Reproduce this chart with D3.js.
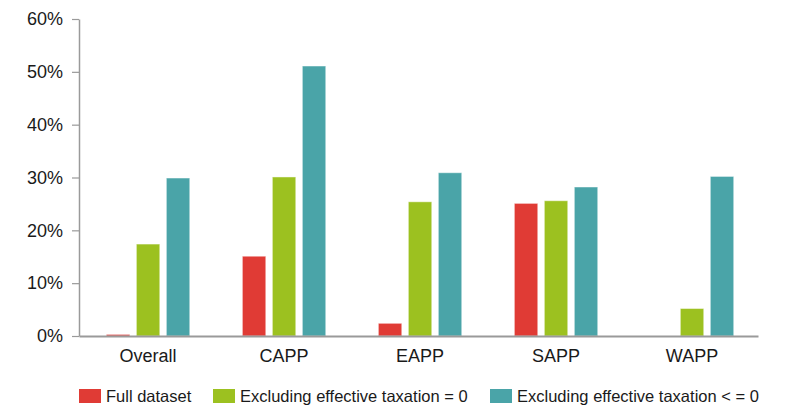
<!DOCTYPE html>
<html>
<head>
<meta charset="utf-8">
<script src="https://cdn.jsdelivr.net/npm/d3@7"></script>
<style>
  html, body { margin: 0; padding: 0; background: #fff; }
  svg { display: block; font-family: "Liberation Sans", Arial, sans-serif; }
</style>
</head>
<body>
<svg id="chart" width="785" height="408"></svg>
<script>
// Power pools shown along the x axis
const categories = ["Overall", "CAPP", "EAPP", "SAPP", "WAPP"];

// Series names (legend order)
const seriesNames = [
  "Full dataset",
  "Excluding effective taxation = 0",
  "Excluding effective taxation < = 0"
];

// Shares per power pool, one array per series
const fullDataset   = [0.003, 0.151, 0.024, 0.251, 0.000];
const excludingZero = [0.174, 0.301, 0.254, 0.256, 0.052];
const excludingNeg  = [0.299, 0.511, 0.309, 0.282, 0.302];

const yTicks = [0, 0.1, 0.2, 0.3, 0.4, 0.5, 0.6];
const seriesColors = ["#e03b35", "#9cc120", "#4aa4a8"];

const svg = d3.select("#chart");
const plotLeft = 79, plotRight = 758, plotTop = 19, plotBottom = 336;

const seriesValues = [fullDataset, excludingZero, excludingNeg];

const x0 = d3.scaleBand()
  .domain(categories)
  .range([plotLeft, plotRight])
  .paddingInner(0.387)
  .paddingOuter(0.19)
  .align(0.53);

const x1 = d3.scaleBand()
  .domain(seriesNames)
  .range([0, x0.bandwidth()])
  .paddingInner(0.22)
  .paddingOuter(0);

const y = d3.scaleLinear().domain([0, 0.6]).range([plotBottom, plotTop]);

// Bars
const groups = svg.append("g").selectAll("g")
  .data(categories)
  .join("g")
  .attr("transform", d => `translate(${x0(d)},0)`);

groups.selectAll("rect")
  .data((c, i) => seriesNames.map((s, k) => ({ s, k, v: seriesValues[k][i] })).filter(d => d.v > 0))
  .join("rect")
  .attr("x", d => x1(d.s))
  .attr("y", d => y(d.v))
  .attr("width", x1.bandwidth())
  .attr("height", d => y(0) - y(d.v))
  .attr("fill", d => seriesColors[d.k])
  .attr("stroke", "rgba(255,255,255,0.45)")
  .attr("stroke-width", 1);

// Y axis
const yAxis = d3.axisLeft(y)
  .tickValues(yTicks)
  .tickFormat(d3.format(".0%"))
  .tickSizeInner(7)
  .tickSizeOuter(0)
  .tickPadding(9);

const gy = svg.append("g")
  .attr("transform", `translate(${plotLeft},0)`)
  .call(yAxis);
gy.select(".domain").attr("stroke", "#9a9a9a").attr("stroke-width", 1.5);
gy.selectAll(".tick line").attr("stroke", "#9a9a9a").attr("stroke-width", 1.2);
gy.selectAll(".tick text")
  .attr("font-size", 18)
  .attr("fill", "#1a1a1a")
  .style("font-family", "'Liberation Sans', Arial, sans-serif");

// X axis
const xAxis = d3.axisBottom(x0).tickSize(0).tickPadding(13);
const gx = svg.append("g")
  .attr("transform", `translate(0,${plotBottom})`)
  .call(xAxis);
gx.select(".domain").attr("stroke", "#9a9a9a").attr("stroke-width", 2);
gx.selectAll(".tick text")
  .attr("font-size", 18)
  .attr("fill", "#1a1a1a")
  .style("font-family", "'Liberation Sans', Arial, sans-serif");

// Legend
const legendX = [79, 213, 490];
const legend = svg.append("g").attr("transform", "translate(0,389)");
const items = legend.selectAll("g")
  .data(seriesNames)
  .join("g")
  .attr("transform", (d, i) => `translate(${legendX[i]},0)`);
items.append("rect")
  .attr("width", 22)
  .attr("height", 14)
  .attr("fill", (d, i) => seriesColors[i]);
items.append("text")
  .attr("x", 27)
  .attr("y", 13)
  .attr("font-size", 16.5)
  .attr("fill", "#1a1a1a")
  .text(d => d);
</script>
</body>
</html>
